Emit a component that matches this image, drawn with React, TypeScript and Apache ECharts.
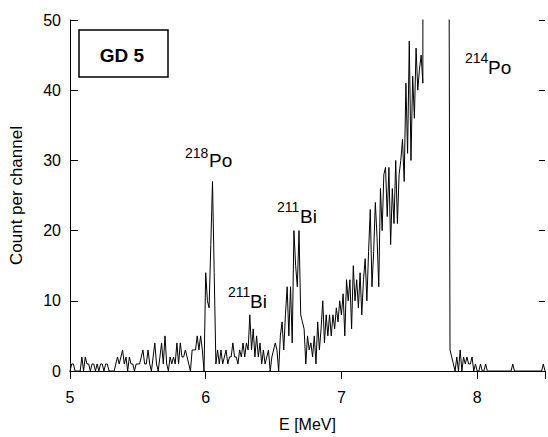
import React, { useEffect, useRef } from "react";
import * as echarts from "echarts";

// Channel calibration
const E_START = 5.0; // MeV at channel 0
const CHANNEL_WIDTH = 0.0125; // MeV per channel

// Counts per channel
// channels 0–79 (5.0–6.0 MeV)
const counts5to6 = [
  0, 1, 1, 0, 0, 0, 0, 2, 0, 2,
  1, 1, 0, 1, 1, 0, 1, 0, 1, 1,
  0, 1, 1, 0, 0, 0, 0, 1, 2, 1,
  2, 3, 1, 2, 0, 2, 1, 1, 0, 1,
  1, 1, 2, 3, 1, 1, 3, 1, 0, 2,
  4, 1, 0, 2, 4, 1, 5, 1, 0, 2,
  1, 2, 1, 4, 1, 4, 2, 2, 3, 2,
  1, 0, 3, 3, 3, 5, 3, 5, 3, 0,
];
// channels 80–159 (6.0–7.0 MeV)
const counts6to7 = [
  14, 10, 9, 18, 27, 14, 1, 3, 1, 3,
  1, 2, 3, 1, 2, 2, 4, 2, 2, 1,
  3, 2, 4, 2, 4, 3, 8, 3, 6, 2,
  5, 2, 4, 1, 3, 1, 2, 3, 0, 2,
  3, 4, 3, 0, 5, 7, 3, 8, 12, 5,
  12, 4, 20, 15, 12, 20, 8, 7, 6, 1,
  5, 3, 4, 2, 5, 1, 7, 3, 6, 10,
  4, 8, 5, 8, 5, 8, 6, 9, 7, 10,
];
// channels 160–239 (7.0–8.0 MeV)
const counts7to8 = [
  8, 11, 5, 13, 10, 13, 6, 15, 10, 13,
  9, 14, 8, 13, 16, 10, 17, 23, 12, 17,
  24, 19, 12, 26, 20, 28, 29, 22, 29, 18,
  26, 21, 30, 21, 28, 30, 33, 27, 41, 31,
  47, 30, 42, 36, 46, 40, 43, 45, 41, 400,
  800, 1200, 1500, 1700, 1800, 1700, 1500, 1200, 900, 600,
  400, 250, 150, 100, 3, 2, 1, 0, 2, 0,
  3, 0, 2, 1, 2, 1, 1, 2, 0, 1,
];
// channels 240–280 (8.0–8.5 MeV)
const counts8to85 = [
  0, 0, 1, 0, 0, 1, 0, 0, 0, 0,
  0, 0, 0, 0, 0, 0, 0, 0, 0, 0,
  0, 1, 0, 0, 0, 0, 0, 0, 0, 0,
  0, 0, 0, 0, 0, 0, 0, 0, 0, 1,
  0,
];

const X_MIN = 5;
const X_MAX = 8.5;
const Y_MIN = 0;
const Y_MAX = 50;
const X_TICKS = [5, 6, 7, 8];
const Y_TICKS = [0, 10, 20, 30, 40, 50];

const FONT = '"Liberation Sans", Arial, Helvetica, sans-serif';

export default function App() {
  const ref = useRef<HTMLDivElement>(null);

  useEffect(() => {
    if (!ref.current) return;
    const chart = echarts.init(ref.current, undefined, { renderer: "svg" });
    const counts = [...counts5to6, ...counts6to7, ...counts7to8, ...counts8to85];
    const data = counts.map((c, i) => [E_START + i * CHANNEL_WIDTH, c]);

    const fmtX = (v: number) => (X_TICKS.includes(v) ? String(v) : "");
    const fmtY = (v: number) => (Y_TICKS.includes(v) ? String(v) : "");

    const sup = (text: string, x: number, y: number) => ({
      type: "text",
      x,
      y,
      style: {
        text,
        fontSize: 14,
        fontFamily: FONT,
        fill: "#000",
        align: "left",
        verticalAlign: "middle",
      },
    });
    const main = (text: string, x: number, y: number) => ({
      type: "text",
      x,
      y,
      style: {
        text,
        fontSize: 19,
        fontFamily: FONT,
        fill: "#000",
        align: "left",
        verticalAlign: "middle",
      },
    });

    chart.setOption({
      animation: false,
      backgroundColor: "#fff",
      grid: { left: 69, right: 0, top: 20, bottom: 63, containLabel: false },
      xAxis: [
        {
          type: "value",
          position: "bottom",
          min: X_MIN,
          max: X_MAX,
          interval: 1,
          name: "E [MeV]",
          nameLocation: "middle",
          nameGap: 45,
          nameTextStyle: { fontSize: 16, fontFamily: FONT, color: "#000" },
          axisLine: { show: true, lineStyle: { color: "#000", width: 1 } },
          axisTick: { show: true, inside: false, length: 6, lineStyle: { color: "#000" } },
          axisLabel: { fontSize: 16, fontFamily: FONT, color: "#000", margin: 18, formatter: fmtX },
          splitLine: { show: false },
        },
        {
          type: "value",
          position: "top",
          min: X_MIN,
          max: X_MAX,
          interval: 1,
          axisLine: { show: true, lineStyle: { color: "#000", width: 1 } },
          axisTick: { show: true, inside: true, length: 8, lineStyle: { color: "#000" } },
          axisLabel: { show: false },
          splitLine: { show: false },
        },
      ],
      yAxis: [
        {
          type: "value",
          position: "left",
          min: Y_MIN,
          max: Y_MAX,
          interval: 10,
          name: "Count per channel",
          nameLocation: "middle",
          nameGap: 45,
          nameRotate: 90,
          nameTextStyle: { fontSize: 17, fontFamily: FONT, color: "#000" },
          axisLine: { show: true, lineStyle: { color: "#000", width: 1 } },
          axisTick: { show: true, inside: true, length: 8, lineStyle: { color: "#000" } },
          axisLabel: { fontSize: 16, fontFamily: FONT, color: "#000", margin: 9, formatter: fmtY },
          splitLine: { show: false },
        },
        {
          type: "value",
          position: "right",
          min: Y_MIN,
          max: Y_MAX,
          interval: 10,
          axisLine: { show: false },
          axisTick: { show: true, inside: true, length: 6, lineStyle: { color: "#000" } },
          axisLabel: { show: false },
          splitLine: { show: false },
        },
      ],
      series: [
        {
          type: "line",
          data,
          xAxisIndex: 0,
          yAxisIndex: 0,
          symbol: "none",
          showSymbol: false,
          clip: true,
          lineStyle: { color: "#000", width: 1 },
        },
      ],
      graphic: [
        {
          type: "rect",
          shape: { x: 79, y: 30, width: 89, height: 47 },
          style: { fill: "#fff", stroke: "#000", lineWidth: 1.5 },
          z: 10,
        },
        {
          type: "text",
          x: 122,
          y: 55.5,
          z: 11,
          style: {
            text: "GD 5",
            fontSize: 19,
            fontWeight: "bold",
            fontFamily: FONT,
            fill: "#000",
            align: "center",
            verticalAlign: "middle",
          },
        },
        sup("218", 185, 152.5),
        main("Po", 209, 160.5),
        sup("211", 228, 292),
        main("Bi", 250, 301.5),
        sup("211", 277, 206.5),
        main("Bi", 300, 216),
        sup("214", 465, 58),
        main("Po", 488, 67.5),
      ],
    });

    return () => chart.dispose();
  }, []);

  return (
    <div
      ref={ref}
      style={{ position: "fixed", left: 0, top: 0, width: 548, height: 437, background: "#fff" }}
    />
  );
}
